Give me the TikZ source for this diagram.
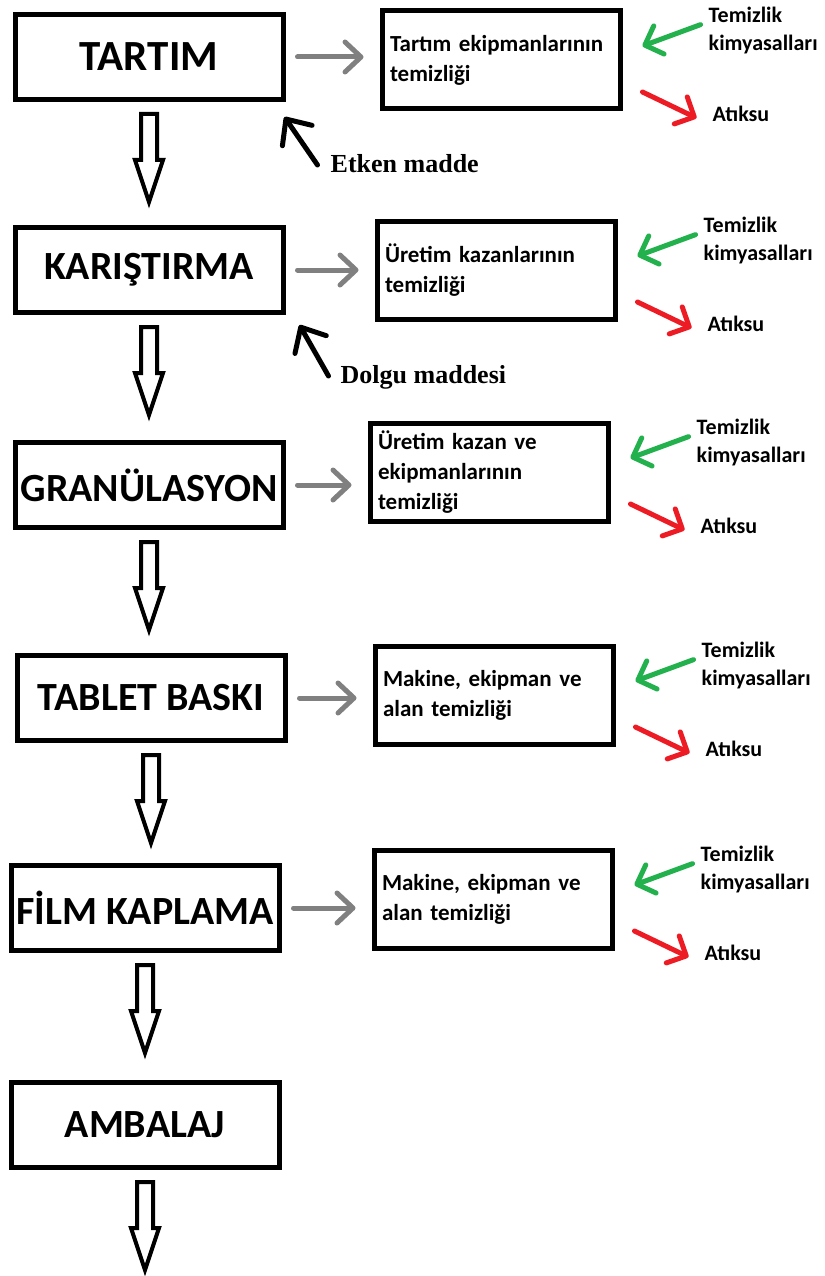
\documentclass[tikz,border=0pt]{standalone}
\usepackage{fontspec}
\setmainfont{Carlito}
\newfontfamily\girdifont{Liberation Serif}
\usetikzlibrary{arrows.meta,positioning,calc}
\usepackage{xcolor}
\definecolor{okgri}{RGB}{128,128,128}
\definecolor{kimyayesil}{RGB}{34,177,76}
\definecolor{atikkirmizi}{RGB}{237,28,36}

\begin{document}
\begin{tikzpicture}[x=1pt, y=-1pt,
  adim/.style={rectangle, draw=black, line width=5pt, minimum width=268pt,
    minimum height=85pt, font=\fontsize{40}{48}\selectfont\bfseries},
  temizlik/.style={rectangle, draw=black, line width=5pt, minimum height=98pt,
    text width=222pt, inner xsep=8pt, align=left,
    font=\fontsize{23}{30}\selectfont\bfseries},
  etiket/.style={inner sep=0pt, align=left, font=\fontsize{22}{28}\selectfont\bfseries},
  girdi/.style={inner sep=0pt, font=\fontsize{26}{30}\selectfont\girdifont\bfseries},
  griok/.style={draw=okgri, line width=5pt, line cap=round, shorten <=12pt, shorten >=16pt,
    -{Straight Barb[length=16pt,width=30pt,round]}},
  yesilok/.style={draw=kimyayesil, line width=5pt, line cap=round,
    -{Straight Barb[length=15pt,width=30pt,round]}},
  kirmiziok/.style={draw=atikkirmizi, line width=5pt, line cap=round,
    -{Straight Barb[length=15pt,width=30pt,round]}},
  siyahok/.style={draw=black, line width=5pt, line cap=round,
    -{Straight Barb[length=20pt,width=36pt,round]}},
  blokok/.style={draw=black, line width=4pt, fill=white, line join=miter}
]
\useasboundingbox (0,0) rectangle (824,1276);

\node[adim, font=\fontsize{43}{50}\selectfont\bfseries] (tartim) at (149,57) {TARTIM};
\node[adim, below=123pt of tartim] (karistirma) {KARIŞTIRMA};
\node[adim, below=125pt of karistirma] (granulasyon) {GRANÜLASYON};
\node[adim, below=123pt of granulasyon, xshift=2pt] (tablet) {TABLET BASKI};
\node[adim, below=120pt of tablet, xshift=-6pt] (film) {FİLM KAPLAMA};
\node[adim, below=127pt of film] (ambalaj) {AMBALAJ};

\node[temizlik, right=94pt of tartim, yshift=-3pt] (temiz1) {Tartım ekipmanlarının\\temizliği};
\node[temizlik, right=89pt of karistirma] (temiz2) {Üretim kazanlarının\\temizliği};
\node[temizlik, right=82pt of granulasyon, yshift=13pt] (temiz3) {Üretim kazan ve\\ekipmanlarının\\temizliği};
\node[temizlik, right=85pt of tablet, yshift=3pt] (temiz4) {Makine, ekipman ve\\alan temizliği};
\node[temizlik, right=90pt of film, yshift=9pt] (temiz5) {Makine, ekipman ve\\alan temizliği};

\foreach \a in {tartim,karistirma,granulasyon,tablet,film,ambalaj}
  \draw[blokok] ($(\a.south)+(-8,12)$) -- ++(0,46) -- ++(-6,0) -- ++(14,42)
    -- ++(14,-42) -- ++(-6,0) -- ++(0,-46) -- cycle;

\foreach \a/\k in {tartim/1,karistirma/2,granulasyon/3,tablet/4,film/5}
  \draw[griok] (\a.east) -- (\a.east -| temiz\k.west);

\foreach \k in {1,...,5} {
  \node[etiket, anchor=north west] (kimya\k) at ($(temiz\k.east)+(86,-53)$) {Temizlik\\kimyasalları};
  \node[etiket, anchor=west] (atik\k) at ($(temiz\k.east)+(90,54)$) {Atıksu};
  \draw[yesilok] ($(kimya\k.west)+(-8,-6)$) -- ($(temiz\k.east)+(20,-14)$);
  \draw[kirmiziok] ($(temiz\k.east)+(20,32)$) -- ($(atik\k.west)+(-16,4)$);
}

\node[girdi, anchor=west] (etken) at ($(tartim.south east)+(45,62)$) {Etken madde};
\node[girdi, anchor=west] (dolgu) at ($(karistirma.south east)+(55,62)$) {Dolgu maddesi};
\draw[siyahok] ($(etken.west)+(-13,1)$) -- ($(tartim.south east)+(-1,15)$);
\draw[siyahok] ($(dolgu.west)+(-12,-1)$) -- ($(karistirma.south east)+(14,10)$);

\end{tikzpicture}
\end{document}
